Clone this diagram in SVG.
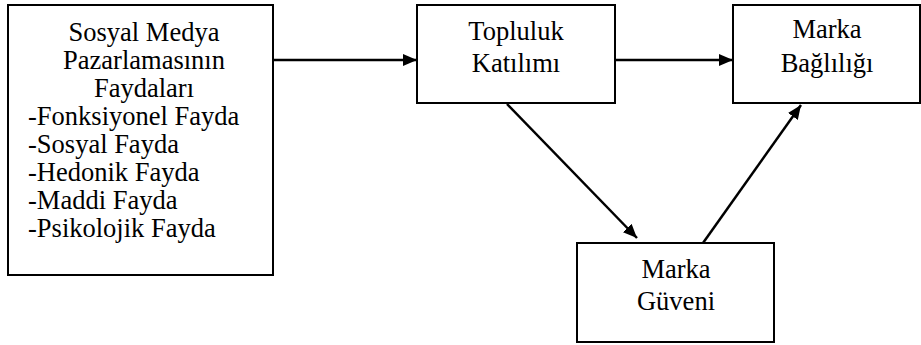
<svg xmlns="http://www.w3.org/2000/svg" width="921" height="345" viewBox="0 0 921 345">
<style>
.box{fill:#fff;stroke:#000;stroke-width:2}
.ln{stroke:#000;stroke-width:2.5;fill:none}
</style>
<defs>
<marker id="ah" viewBox="0 0 14 12" refX="14" refY="6" markerWidth="14" markerHeight="12" markerUnits="userSpaceOnUse" orient="auto">
<path d="M0,0 L14,6 L0,12 Z" fill="#000"/>
</marker>
</defs>
<g id="connectors">
<line class="ln" x1="273" y1="60" x2="417" y2="60" marker-end="url(#ah)"/>
<line class="ln" x1="615" y1="60" x2="733" y2="60" marker-end="url(#ah)"/>
<line class="ln" x1="507" y1="104" x2="637" y2="238" marker-end="url(#ah)"/>
<line class="ln" x1="703" y1="243" x2="801" y2="105" marker-end="url(#ah)"/>
</g>
<g id="node-sosyal" font-family="Liberation Serif, serif" font-size="26.5" fill="#000">
<rect class="box" x="8" y="5" width="265" height="270"/>
<text text-anchor="middle" x="144" y="41">Sosyal Medya</text>
<text text-anchor="middle" x="144" y="69">Pazarlamasının</text>
<text text-anchor="middle" x="144" y="97">Faydaları</text>
<text x="28" y="125">-Fonksiyonel Fayda</text>
<text x="28" y="153">-Sosyal Fayda</text>
<text x="28" y="181">-Hedonik Fayda</text>
<text x="28" y="209">-Maddi Fayda</text>
<text x="28" y="237">-Psikolojik Fayda</text>
</g>
<g id="node-topluluk" font-family="Liberation Serif, serif" font-size="26.5" fill="#000" text-anchor="middle">
<rect class="box" x="417" y="5" width="198" height="98"/>
<text x="516" y="40">Topluluk</text>
<text x="516" y="72">Katılımı</text>
</g>
<g id="node-baglilik" font-family="Liberation Serif, serif" font-size="26.5" fill="#000" text-anchor="middle">
<rect class="box" x="733" y="5" width="187" height="98"/>
<text x="827" y="38">Marka</text>
<text x="827" y="72">Bağlılığı</text>
</g>
<g id="node-guven" font-family="Liberation Serif, serif" font-size="26.5" fill="#000" text-anchor="middle">
<rect class="box" x="577" y="243" width="197" height="99"/>
<text x="676" y="278">Marka</text>
<text x="676" y="310">Güveni</text>
</g>
</svg>
